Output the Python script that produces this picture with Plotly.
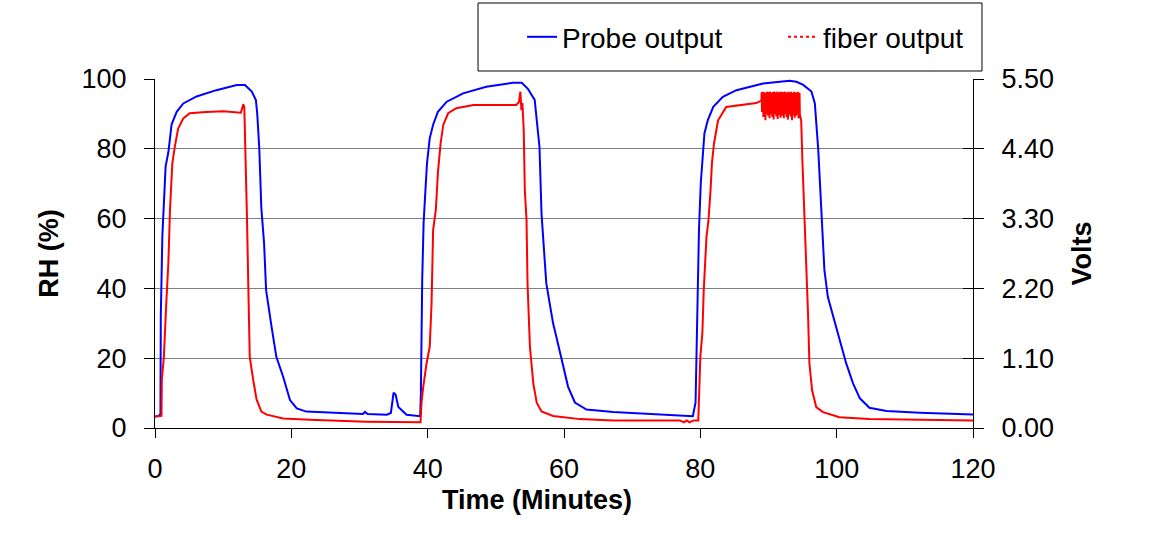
import plotly.graph_objects as go

# ---------------- data ----------------
probe_time = [0, 0.5, 0.8, 0.85, 1.08, 1.32, 1.56, 1.96, 2.44, 3.18, 4.15, 6.1, 9.0, 12.0, 13.2,
              14.2, 14.8, 15.0, 15.3, 15.6, 16.0, 16.3, 16.6, 17.1, 17.8, 18.8, 19.8, 20.8, 22.2,
              27.1, 30.5, 30.8, 31.2, 34.0, 34.6, 35.0, 35.3, 35.7, 36.9, 38.9,
              39.0, 39.2, 39.4, 39.7, 39.9, 40.3, 40.8, 41.5, 42.8, 45.2, 48.6, 52.5, 53.8, 54.7,
              55.7, 56.4, 56.7, 57.0, 57.4, 57.9, 58.4, 59.1, 59.8, 60.6, 61.6, 63.3, 67.2, 72.1,
              77.0, 78.9,
              79.3, 79.5, 79.8, 80.06, 80.3, 80.6, 81.1, 81.9, 83.3, 85.3, 89.2, 93.1, 94.1, 95.1,
              96.3, 96.8, 97.3, 97.75, 98.2, 98.7, 99.5, 100.4, 101.4, 102.4, 103.4, 104.8, 107.3,
              112.2, 120]
probe_rh = [3.3, 3.4, 4.0, 32.0, 55.0, 67.0, 75.0, 79.0, 87.0, 90.6, 93.0, 95.0, 96.8, 98.3, 98.3,
            96.4, 94.0, 90.0, 80.0, 63.0, 53.0, 39.5, 35.0, 29.0, 20.4, 14.7, 8.0, 5.6, 4.7,
            4.2, 4.0, 4.6, 4.0, 3.8, 4.3, 10.1, 9.5, 6.0, 3.8, 3.4,
            9.7, 42.4, 58.6, 69.1, 75.8, 83.0, 86.9, 90.6, 93.5, 95.9, 97.8, 98.9, 98.9, 97.2,
            94.0, 80.6, 61.5, 52.9, 41.5, 35.7, 30.0, 24.3, 18.5, 11.8, 7.3, 5.3, 4.6, 4.1,
            3.6, 3.4,
            7.3, 26.4, 56.7, 70.0, 77.7, 84.4, 88.2, 92.0, 94.9, 96.8, 98.7, 99.5, 99.2, 98.3,
            96.4, 93.0, 79.7, 60.5, 45.3, 37.6, 31.9, 26.1, 18.5, 12.8, 8.5, 5.8, 4.9,
            4.4, 3.9]

fiber_time = [0, 0.95, 1.0, 1.3, 1.65, 1.96, 2.2, 2.54, 2.9, 3.4, 4.15, 5.1, 7.5, 10.0, 12.6,
              12.95, 13.1, 13.34, 13.5, 13.7, 13.9, 14.4, 14.9, 15.6, 16.4, 18.8, 22.7, 31.0,
              38.95,
              39.1, 39.35, 39.84, 40.3, 40.57, 40.8, 41.2, 41.5, 41.9, 42.3, 43.0, 44.2, 46.7,
              53.0, 53.4, 53.6, 53.75, 53.9, 54.1, 54.25, 54.5, 54.65, 55.0, 55.5, 56.0, 56.7,
              58.4, 62.3, 67.2, 77.0, 77.6, 78.0, 78.4, 79.0, 79.7,
              79.8, 80.0, 80.3, 80.5, 80.9, 81.2, 81.5, 81.7, 82.0, 82.6, 83.8, 88.2,
              88.95, 89.0, 89.05, 89.1, 89.15, 89.2, 89.25, 89.3, 89.35, 89.4, 89.45, 89.5, 89.55,
              89.6, 89.65, 89.7, 89.75, 89.8, 89.85, 89.9, 89.95, 90.0, 90.05, 90.1, 90.15, 90.2,
              90.25, 90.3, 90.35, 90.4, 90.45, 90.5, 90.55, 90.6, 90.65, 90.7, 90.75, 90.8, 90.85,
              90.9, 90.95, 91.0, 91.05, 91.1, 91.15, 91.2, 91.25, 91.3, 91.35, 91.4, 91.45, 91.5,
              91.55, 91.6, 91.65, 91.7, 91.75, 91.8, 91.85, 91.9, 91.95, 92.0, 92.05, 92.1, 92.15,
              92.2, 92.25, 92.3, 92.35, 92.4, 92.45, 92.5, 92.55, 92.6, 92.65, 92.7, 92.75, 92.8,
              92.85, 92.9, 92.95, 93.0, 93.05, 93.1, 93.15, 93.2, 93.25, 93.3, 93.35, 93.4, 93.45,
              93.5, 93.55, 93.6, 93.65, 93.7, 93.75, 93.8, 93.85, 93.9, 93.95, 94.0, 94.05, 94.1,
              94.15, 94.2, 94.25, 94.3, 94.35, 94.4, 94.45, 94.5, 94.55, 94.6,
              94.8, 94.97, 95.3, 95.6, 95.8, 96.0, 96.4, 97.0, 98.0, 100.4, 104.8, 120]
fiber_volts = [0.18, 0.19, 0.76, 1.12, 1.96, 2.60, 3.44, 4.17, 4.43, 4.72, 4.88, 4.96, 4.98, 4.99,
               4.97, 5.10, 5.06, 4.16, 3.28, 2.17, 1.12, 0.76, 0.45, 0.26, 0.21, 0.15, 0.13, 0.10,
               0.09,
               0.40, 0.65, 1.02, 1.28, 1.96, 3.12, 3.44, 4.02, 4.49, 4.78, 4.96, 5.04, 5.09,
               5.09, 5.14, 5.30, 5.01, 5.12, 4.67, 3.75, 3.28, 2.28, 1.28, 0.70, 0.40, 0.26,
               0.19, 0.14, 0.12, 0.12, 0.09, 0.12, 0.09, 0.12, 0.12,
               0.59, 1.12, 1.50, 2.17, 3.01, 3.28, 3.75, 4.17, 4.48, 4.85, 5.06, 5.12,
               5.16, 5.29, 4.98, 5.27, 5.02, 5.30, 4.90, 5.25, 5.05, 5.29, 4.96, 5.22, 4.85,
               5.28, 5.00, 5.26, 4.95, 5.30, 5.08, 5.24, 4.92, 5.29, 4.99, 5.27, 4.88, 5.30,
               5.03, 5.25, 4.94, 5.28, 5.06, 5.21, 4.90, 5.29, 4.97, 5.27, 4.86, 5.30, 5.01,
               5.23, 4.95, 5.29, 5.04, 5.26, 4.91, 5.30, 4.98, 5.24, 4.87, 5.28, 5.02, 5.27,
               4.93, 5.30, 5.00, 5.25, 4.89, 5.29, 5.05, 5.26, 4.96, 5.30, 4.92, 5.27, 5.03,
               5.24, 4.88, 5.29, 5.00, 5.28, 4.95, 5.30, 5.06, 5.22, 4.90, 5.28, 4.98, 5.26,
               4.86, 5.30, 5.02, 5.25, 4.94, 5.29, 5.07, 5.23, 4.91, 5.30, 4.99, 5.27, 4.85,
               5.28, 5.04, 5.26, 4.93, 5.30, 5.01, 5.24, 4.89, 5.29, 4.97, 5.27, 4.92, 5.21,
               5.29, 4.95, 5.27, 5.03, 5.30, 4.88, 5.25, 5.00, 5.28, 4.94,
               4.84, 4.22, 3.32, 2.48, 1.79, 1.02, 0.59, 0.33, 0.25, 0.17, 0.14, 0.12]

x_ticks = [0, 20, 40, 60, 80, 100, 120]
rh_ticks = [0, 20, 40, 60, 80, 100]
volt_ticks = [0.00, 1.10, 2.20, 3.30, 4.40, 5.50]
volt_tick_text = ["0.00", "1.10", "2.20", "3.30", "4.40", "5.50"]

FONT = "Liberation Sans, Arial, sans-serif"

fig = go.Figure()
fig.add_trace(go.Scatter(x=probe_time, y=probe_rh, mode="lines", name="Probe output",
                         line=dict(color="#0000FF", width=2), yaxis="y"))
fig.add_trace(go.Scatter(x=fiber_time, y=fiber_volts, mode="lines", name="fiber output",
                         line=dict(color="#FF0000", width=2), yaxis="y2", showlegend=False))
# legend entry for the fiber series (dotted sample as in the reference legend)
fig.add_trace(go.Scatter(x=[None], y=[None], mode="lines", name="fiber output",
                         line=dict(color="#FF0000", width=2, dash="dot"), yaxis="y2"))
# helper trace so the inner half of the right-axis ticks can be drawn
fig.add_trace(go.Scatter(x=[None], y=[None], mode="lines", showlegend=False, yaxis="y3",
                         hoverinfo="skip"))

fig.update_layout(
    width=1153, height=533,
    margin=dict(l=155, r=180, t=79, b=105),
    paper_bgcolor="white", plot_bgcolor="white",
    font=dict(family=FONT, size=27, color="black"),
    showlegend=True,
    legend=dict(orientation="h", x=0.4487, y=1.12, xanchor="left", yanchor="middle",
                font=dict(size=28, family=FONT), bgcolor="rgba(0,0,0,0)", borderwidth=0,
                entrywidth=216, entrywidthmode="pixels"),
    xaxis=dict(range=[0, 120], tickvals=x_ticks, ticks="outside", ticklen=9, tickwidth=1,
               tickcolor="black", showline=True, linecolor="black", linewidth=1,
               showgrid=False, zeroline=False, ticklabelstandoff=8,
               tickfont=dict(size=27, family=FONT)),
    yaxis=dict(range=[0, 100], tickvals=rh_ticks, ticks="outside", ticklen=10, tickwidth=1,
               tickcolor="black", showline=True, linecolor="black", linewidth=1,
               showgrid=True, gridcolor="#808080", gridwidth=1, zeroline=False,
               ticklabelstandoff=12, tickfont=dict(size=27, family=FONT),
               title=dict(text="<b>RH (%)</b>", font=dict(size=27, family=FONT), standoff=15)),
    yaxis2=dict(range=[0, 5.5], tickvals=volt_ticks, ticktext=volt_tick_text, side="right",
                overlaying="y", anchor="x", ticks="outside", ticklen=10, tickwidth=1,
                tickcolor="black", showline=True, linecolor="black", linewidth=1,
                showgrid=False, zeroline=False, ticklabelstandoff=12,
                tickfont=dict(size=27, family=FONT),
                title=dict(text="<b>Volts</b>", font=dict(size=27, family=FONT), standoff=19)),
    yaxis3=dict(range=[0, 5.5], tickvals=volt_ticks, side="right", overlaying="y", anchor="x",
                ticks="inside", ticklen=10, tickwidth=1, tickcolor="black",
                showticklabels=False, showline=False, showgrid=False, zeroline=False),
    shapes=[dict(type="rect", xref="paper", yref="paper", x0=0.3949, x1=1.0110,
                 y0=1.0229, y1=1.2178, line=dict(color="black", width=1),
                 fillcolor="rgba(0,0,0,0)", layer="above")],
    annotations=[dict(text="<b>Time (Minutes)</b>", xref="paper", yref="paper",
                      x=(537 - 155) / 818, y=(428 - 500) / 349, xanchor="center",
                      yanchor="middle", showarrow=False, font=dict(size=27, family=FONT))],
)

# remove the browser's default 8px page margin so the figure sits at the window's corner
fig.write_html("out.html", config={"displayModeBar": False},
               post_script="document.body.style.margin='0px';")
